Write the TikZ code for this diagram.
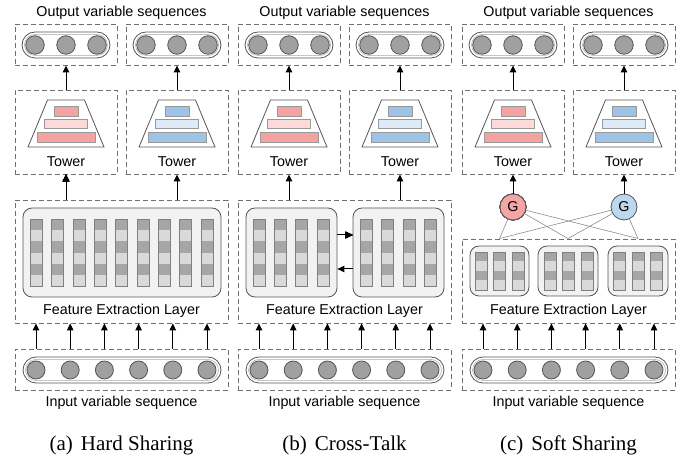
\documentclass[tikz,border=0pt]{standalone}
\usepackage{fontspec}
\setmainfont{Liberation Serif}
\newfontfamily\labfont{Liberation Sans}
\usetikzlibrary{arrows.meta, positioning}

\definecolor{dashgray}{HTML}{707070}
\definecolor{linegray}{HTML}{555555}
\definecolor{seqgray}{HTML}{A0A0A0}
\definecolor{featbg}{HTML}{F2F2F2}
\definecolor{celldark}{HTML}{A6A6A6}
\definecolor{celllight}{HTML}{D9D9D9}
\definecolor{towred}{HTML}{F4A3A3}
\definecolor{towpink}{HTML}{FCDADA}
\definecolor{towblue}{HTML}{9DC3E6}
\definecolor{towlblue}{HTML}{DEEBF7}
\definecolor{gred}{HTML}{F6A5A5}
\definecolor{gblue}{HTML}{BDD7EE}

% one tower: trapezoid with three stacked bars
\newcommand{\drawtower}[3]{%
  \draw[linegray, line width=0.8pt] ({#1-18.5},100) -- ({#1+18.5},100) -- ({#1+38},147) -- ({#1-38},147) -- cycle;
  \draw[gray!80, line width=0.5pt, fill=#2] ({#1-12},106) rectangle ({#1+12},116);
  \draw[gray!80, line width=0.5pt, fill=#3] ({#1-21.5},119) rectangle ({#1+21.5},128);
  \draw[gray!80, line width=0.5pt, fill=#2] ({#1-29},132) rectangle ({#1+29},142);
}
% one feature column: x, top, number of cells, cell height
\newcommand{\featcol}[4]{%
  \foreach \k in {1,...,#3} {
    \ifodd\k \def\cc{celldark}\else\def\cc{celllight}\fi
    \fill[fill=\cc] ({#1-6},{#2+(\k-1)*#4}) rectangle ({#1+6},{#2+\k*#4});
  }
  \draw[gray, line width=0.5pt] ({#1-6},#2) rectangle ({#1+6},{#2+#3*#4});
}

\begin{document}
\begin{tikzpicture}[x=1pt, y=-1pt,
    >={Triangle[length=7pt, width=6.5pt]},
    every node/.style={font=\labfont\fontsize{14.3}{16}\selectfont, inner sep=0pt},
    dbox/.style={draw=dashgray, dash pattern=on 5pt off 3pt, line width=0.9pt},
    pill/.style={draw=linegray, rounded corners=13pt, line width=0.8pt},
    pillin/.style={draw=gray!70, rounded corners=10.5pt, line width=0.5pt},
    seq/.style={circle, draw=linegray, fill=seqgray, minimum size=18.5pt, line width=0.8pt},
    feat/.style={draw=linegray, fill=featbg, rounded corners=9pt, line width=0.8pt},
    gate/.style={circle, draw=linegray, minimum size=26pt, line width=0.8pt},
    edge/.style={->, line width=1pt},
    link/.style={draw=gray!90, line width=0.6pt}
  ]
  \useasboundingbox (0,0) rectangle (694,462);

  % parts shared by the three panels
  \foreach \L/\p/\fy/\fh/\cap in {15/a/261.5/123pt/{(a)\hspace{8pt}Hard Sharing},
                                   238/b/261.5/123pt/{(b)\hspace{8pt}Cross-Talk},
                                   462/c/281/84pt/{(c)\hspace{8pt}Soft Sharing}} {
    \node[anchor=base] (title\p) at ({\L+106.5},17) {Output variable sequences};
    \foreach \j/\dx/\cbar/\clight in {1/51/towred/towpink, 2/162/towblue/towlblue} {
      \node[dbox, minimum width=102pt, minimum height=41pt] (out\p\j) at ({\L+\dx},44.5) {};
      \node[pill, minimum width=88pt, minimum height=26pt] (opill\p\j) at ({\L+\dx},45) {};
      \node[pillin, minimum width=83pt, minimum height=21pt] (opillin\p\j) at ({\L+\dx},45) {};
      \foreach \c in {-31,0,31}
        \node[seq] (o\p\j\c) at ({\L+\dx+\c},45) {};
      \node[dbox, minimum width=102pt, minimum height=84pt] (tow\p\j) at ({\L+\dx},132) {};
      \drawtower{\L+\dx}{\cbar}{\clight}
      \node[anchor=base] (towlab\p\j) at ({\L+\dx},167) {Tower};
      \draw[edge] (tow\p\j) -- (out\p\j);
    }
    % feature block
    \node[dbox, minimum width=213pt, minimum height=\fh] (feat\p) at ({\L+106.5},\fy) {};
    \node[anchor=base] (featlab\p) at ({\L+106.5},315) {Feature Extraction Layer};
    % input sequence
    \node[dbox, minimum width=213pt, minimum height=41pt] (in\p) at ({\L+106.5},369.5) {};
    \node[pill, minimum width=198pt, minimum height=26pt] (ipill\p) at ({\L+107},370) {};
    \node[pillin, minimum width=193pt, minimum height=21pt] (ipillin\p) at ({\L+107},370) {};
    \foreach \i in {0,...,5} {
      \node[seq, minimum size=18pt] (i\p\i) at ({\L+21+34.2*\i},370) {};
      \draw[edge] (in\p.north -| i\p\i) -- (feat\p.south -| i\p\i);
    }
    \node[anchor=base] (inlab\p) at ({\L+106.5},407) {Input variable sequence};
    \node[anchor=base, font=\rmfamily\fontsize{21}{24}\selectfont] (cap\p) at ({\L+106.5},450) {\cap};
  }

  % (a) one shared extractor
  \node[feat, minimum width=198pt, minimum height=89pt] (fina) at (122,252.5) {};
  \foreach \i in {0,...,8} \featcol{36+21.375*\i}{219}{6}{11.17}
  \draw[edge] (feata.north -| towa1) -- (towa1);
  \draw[edge] (feata.north -| towa2) -- (towa2);

  % (b) two extractors talking to each other
  \node[feat, minimum width=91pt, minimum height=89pt] (finb1) at (291.5,252.5) {};
  \node[feat, minimum width=91pt, minimum height=89pt] (finb2) at (398.5,252.5) {};
  \foreach \x in {259,280,301,323,366,387,409,430} \featcol{\x}{219}{6}{11.17}
  \draw[edge] ([yshift=17.5pt]finb1.east) -- ([yshift=17.5pt]finb2.west);
  \draw[edge] ([yshift=-16.5pt]finb2.west) -- ([yshift=-16.5pt]finb1.east);
  \draw[edge] (featb.north -| towb1) -- (towb1);
  \draw[edge] (featb.north -| towb2) -- (towb2);

  % (c) three experts mixed by two gates
  \foreach \i/\x/\w in {1/499.5/59pt, 2/568/60pt, 3/638/60pt}
    \node[feat, minimum width=\w, minimum height=50pt] (finc\i) at (\x,271) {};
  \foreach \x in {481,499,518,550,568,587,619,638,656} \featcol{\x}{252}{4}{9.5}
  \node[gate, fill=gred] (gl) at (513,207) {G};
  \node[gate, fill=gblue] (gr) at (624,207) {G};
  \foreach \i in {1,2,3} \coordinate (tap\i) at (featc.north -| finc\i);
  \foreach \g in {gl,gr}
    \foreach \i in {1,2,3}
      \draw[link] (\g) -- (tap\i);
  \draw[edge] (gl) -- (towc1);
  \draw[edge] (gr) -- (towc2);
\end{tikzpicture}
\end{document}
